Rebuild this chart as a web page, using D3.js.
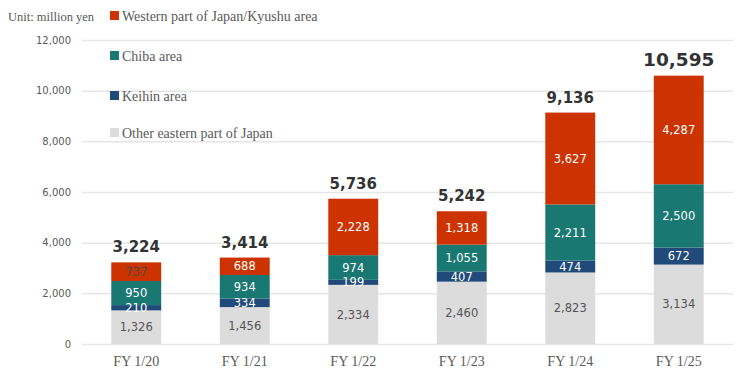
<!DOCTYPE html>
<html>
<head>
<meta charset="utf-8">
<script src="https://cdn.jsdelivr.net/npm/d3@7"></script>
<style>
body { margin: 0; background: #fff; }
</style>
</head>
<body>
<div id="graph"></div>
<script>
var svgWidth = 749;
var svgHeight = 378;

// data
var years = ["FY 1/20", "FY 1/21", "FY 1/22", "FY 1/23", "FY 1/24", "FY 1/25"];
var other = [1326, 1456, 2334, 2460, 2823, 3134];
var keihin = [210, 334, 199, 407, 474, 672];
var chiba = [950, 934, 974, 1055, 2211, 2500];
var western = [737, 688, 2228, 1318, 3627, 4287];
var totals = [3224, 3414, 5736, 5242, 9136, 10595];	// as printed (rounded separately)
var yTicks = [0, 2000, 4000, 6000, 8000, 10000, 12000];

var seriesNames = ["Other eastern part of Japan", "Keihin area", "Chiba area", "Western part of Japan/Kyushu area"];
var seriesColors = ["#dcdcdc", "#1f4a7a", "#1a7873", "#cc3300"];
var labelColors = ["#555555", "#ffffff", "#ffffff", "#ffffff"];

var rows = years.map(function(y, i) {
	return { year: y, other: other[i], keihin: keihin[i], chiba: chiba[i], western: western[i], total: totals[i] };
});
var keys = ["other", "keihin", "chiba", "western"];
var stacked = d3.stack().keys(keys)(rows);

// chart area
var chartLeft = 82, chartRight = 733, chartTop = 40, chartBottom = 344;

var x = d3.scaleBand().domain(years).range([chartLeft, chartRight]).paddingInner(0.54).paddingOuter(0.27);
var y = d3.scaleLinear().domain([0, 12000]).range([chartBottom, chartTop]);

var svg = d3.select("#graph").append("svg")
	.attr("width", svgWidth)
	.attr("height", svgHeight);

var fmt = d3.format(",");

// gridlines + y axis labels
var yAxis = svg.append("g")
	.attr("transform", "translate(" + chartLeft + ",0)")
	.call(d3.axisLeft(y).tickValues(yTicks).tickSize(-(chartRight - chartLeft)).tickFormat(fmt).tickPadding(11));
yAxis.select(".domain").remove();
yAxis.selectAll(".tick line").attr("stroke", "#e6e6e6").attr("stroke-width", 1.5);
yAxis.selectAll(".tick text")
	.attr("font-family", "DejaVu Sans, Verdana, sans-serif")
	.attr("font-size", 10)
	.attr("fill", "#595959");

// x axis labels
var xAxis = svg.append("g")
	.attr("transform", "translate(0," + chartBottom + ")")
	.call(d3.axisBottom(x).tickSize(0).tickPadding(12));
xAxis.select(".domain").remove();
xAxis.selectAll(".tick text")
	.attr("font-family", "Liberation Serif, Times New Roman, serif")
	.attr("font-size", 14)
	.attr("fill", "#595959");

// bars
var groups = svg.selectAll("g.series").data(stacked).enter().append("g")
	.attr("class", "series")
	.attr("fill", function(d, i) { return seriesColors[i]; });

groups.selectAll("rect").data(function(d) { return d; }).enter().append("rect")
	.attr("x", function(d) { return x(d.data.year); })
	.attr("y", function(d) { return y(d[1]); })
	.attr("width", x.bandwidth())
	.attr("height", function(d) { return y(d[0]) - y(d[1]); });

// segment labels
stacked.forEach(function(s, si) {
	svg.append("g").selectAll("text").data(s).enter().append("text")
		.attr("x", function(d) { return x(d.data.year) + x.bandwidth() / 2; })
		.attr("y", function(d) { return (y(d[0]) + y(d[1])) / 2; })
		.attr("dy", "0.36em")
		.attr("text-anchor", "middle")
		.attr("font-family", "DejaVu Sans, Verdana, sans-serif")
		.attr("font-size", 11.5)
		.attr("fill", function(d, i) { return (si === 3 && i === 0) ? "#4a4a4a" : labelColors[si]; })
		.text(function(d) { return fmt(d[1] - d[0]); });
});

// totals
svg.append("g").selectAll("text").data(rows).enter().append("text")
	.attr("x", function(d) { return x(d.year) + x.bandwidth() / 2; })
	.attr("y", function(d) { return y(d.total) - 10; })
	.attr("text-anchor", "middle")
	.attr("font-family", "DejaVu Sans, Verdana, sans-serif")
	.attr("font-weight", "bold")
	.attr("font-size", function(d, i) { return i === rows.length - 1 ? 18.5 : 15; })
	.attr("fill", "#333333")
	.text(function(d) { return fmt(d.total); });

// unit label
svg.append("text")
	.attr("x", 8)
	.attr("y", 21)
	.attr("font-family", "Liberation Serif, Times New Roman, serif")
	.attr("font-size", 12.5)
	.attr("fill", "#595959")
	.text("Unit: million yen");

// legend (top to bottom: western, chiba, keihin, other)
var legendY = [16, 56, 96, 133];
[3, 2, 1, 0].forEach(function(si, k) {
	var g = svg.append("g").attr("transform", "translate(110," + legendY[k] + ")");
	g.append("rect").attr("x", 0).attr("y", -5).attr("width", 9).attr("height", 9).attr("fill", seriesColors[si]);
	g.append("text").attr("x", 12).attr("y", 0).attr("dy", "0.35em")
		.attr("font-family", "Liberation Serif, Times New Roman, serif")
		.attr("font-size", 14)
		.attr("fill", "#595959")
		.text(seriesNames[si]);
});
</script>
</body>
</html>
